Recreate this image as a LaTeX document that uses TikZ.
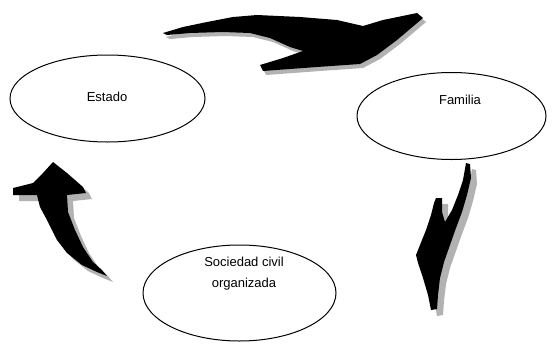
\documentclass[tikz,border=0pt]{standalone}
\usepackage{fontspec}
\setmainfont{Liberation Sans}
\usetikzlibrary{shapes.geometric}
\begin{document}
\begin{tikzpicture}[x=1pt,y=-1pt,
  oval/.style={draw=black,line width=1pt,ellipse,inner sep=0pt},
  lbl/.style={font=\fontsize{13}{21}\selectfont,align=center,inner sep=0pt},
  swoosh/.style={fill=black},
  shade/.style={fill=gray!60}]
\useasboundingbox[fill=white] (0,0) rectangle (559,343);
% ovals
\node[oval,minimum width=195pt,minimum height=87pt] (estado) at (107.5,98.5) {};
\node[oval,minimum width=189pt,minimum height=87pt] (familia) at (451.5,116) {};
\node[oval,minimum width=193pt,minimum height=96pt] (sociedad) at (239.5,293) {};
\node[lbl] (testado) at (107,97) {Estado};
\node[lbl] (tfamilia) at (460,100) {Familia};
\node[lbl] (tsociedad) at (244,274) {Sociedad civil\\organizada};
% top arrow
\def\toparr{(163,33) -- (183,27) -- (207,22) -- (233,17) -- (257,15) -- (300,17) -- (337,20) -- (363,26) -- (383,20) -- (417,13) -- (423,18) -- (397,40) -- (377,55) -- (360,64) -- (317,67) -- (263,71) -- (260,65) -- (283,58) -- (303,51) -- (290,47) -- (270,38) -- (250,33) -- (223,32) -- (190,33) -- (167,35) -- cycle}
\fill[shade,shift={(3pt,-4pt)}] \toparr;
\fill[swoosh] \toparr;
% right arrow
\def\rightarr{(466,163) -- (470,164) -- (471,178) -- (467,195) -- (462,212) -- (456,228) -- (450,245) -- (444,262) -- (440,278) -- (438,295) -- (437,309) -- (431,310) -- (428,295) -- (423,278) -- (418,263) -- (416,255) -- (420,245) -- (426,230) -- (431,215) -- (434,203) -- (436,198) -- (442,198) -- (442,212) -- (445,222) -- (452,210) -- (458,195) -- (463,180) -- cycle}
\fill[shade,shift={(6pt,-6pt)}] \rightarr;
\fill[swoosh] \rightarr;
% left arrow
\def\leftarr{(53,162) -- (67,173) -- (83,187) -- (86,193) -- (67,195) -- (68,212) -- (75,230) -- (83,247) -- (93,262) -- (102,270) -- (107,276) -- (97,272) -- (82,265) -- (67,253) -- (57,240) -- (47,220) -- (40,207) -- (37,195) -- (13,195) -- (13,188) -- (33,183) -- (43,173) -- cycle}
\fill[shade,shift={(6pt,-6pt)}] \leftarr;
\fill[swoosh] \leftarr;
\end{tikzpicture}
\end{document}
